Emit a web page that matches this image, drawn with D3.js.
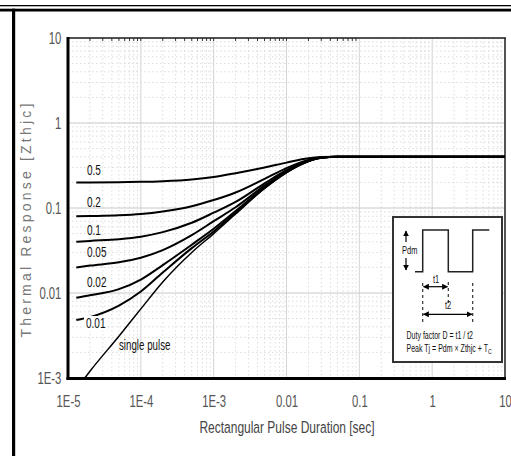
<!DOCTYPE html>
<html>
<head>
<meta charset="utf-8">
<script src="https://cdn.jsdelivr.net/npm/d3@7"></script>
<style>
  body { margin: 0; background: #fff; }
  svg { display: block; }
  text { font-family: "Liberation Sans", Arial, sans-serif; }
</style>
</head>
<body>
<svg id="chart" width="511" height="456"></svg>
<script>
// values
var durations = [1.3e-5, 2e-5, 5e-5, 1e-4, 2e-4, 5e-4, 1e-3, 2e-3, 5e-3, 1e-2, 2e-2, 3e-2, 5e-2, 10];
var duty05 = [0.200, 0.200, 0.201, 0.203, 0.207, 0.217, 0.232, 0.257, 0.300, 0.342, 0.385, 0.397, 0.400, 0.400];
var duty02 = [0.080, 0.0805, 0.082, 0.085, 0.091, 0.105, 0.124, 0.152, 0.220, 0.295, 0.368, 0.393, 0.400, 0.400];
var duty01 = [0.040, 0.041, 0.043, 0.046, 0.052, 0.067, 0.088, 0.118, 0.195, 0.278, 0.362, 0.392, 0.400, 0.400];
var duty005 = [0.020, 0.021, 0.023, 0.026, 0.032, 0.048, 0.070, 0.102, 0.183, 0.270, 0.358, 0.391, 0.400, 0.400];
var duty002 = [0.0088, 0.0094, 0.0111, 0.0144, 0.0213, 0.037, 0.057, 0.092, 0.175, 0.265, 0.356, 0.390, 0.400, 0.400];
var duty001 = [0.0048, 0.0052, 0.0071, 0.0104, 0.0174, 0.0337, 0.053, 0.088, 0.172, 0.263, 0.355, 0.390, 0.400, 0.400];
var singleDurations = [1.7e-5, 2e-5, 5e-5, 1e-4, 2e-4, 5e-4, 1e-3, 2e-3, 5e-3, 1e-2, 2e-2, 3e-2, 5e-2];
var singlePulse = [0.001, 0.0012, 0.0031, 0.0065, 0.0135, 0.030, 0.050, 0.085, 0.170, 0.261, 0.354, 0.389, 0.400];

var dutyNames = ["0.5", "0.2", "0.1", "0.05", "0.02", "0.01"];
var dutySeries = [duty05, duty02, duty01, duty005, duty002, duty001];

var xTickValues = [1e-5, 1e-4, 1e-3, 1e-2, 1e-1, 1, 10];
var xTickLabels = ["1E-5", "1E-4", "1E-3", "0.01", "0.1", "1", "10"];
var yTickValues = [1e-3, 1e-2, 1e-1, 1, 10];
var yTickLabels = ["1E-3", "0.01", "0.1", "1", "10"];

var svg = d3.select("#chart");

var xScale = d3.scaleLog().domain([1e-5, 10]).range([68, 505]);
var yScale = d3.scaleLog().domain([1e-3, 10]).range([378, 38]);

// condensed text: regular font squeezed sideways
function narrowText(parent, x, y, str, size, anchor, sx, sy) {
    var g = parent.append("g")
        .attr("transform", "translate(" + x + "," + y + ") scale(" + (sx || 0.78) + "," + (sy || 1) + ")");
    return g.append("text")
        .attr("text-anchor", anchor || "start")
        .attr("font-size", size)
        .attr("fill", "#111")
        .text(str);
}

// outer frame of the datasheet page
svg.append("rect").attr("x", 0).attr("y", 5).attr("width", 511).attr("height", 1.3).attr("fill", "#000");
svg.append("rect").attr("x", 0).attr("y", 8.7).attr("width", 511).attr("height", 2.8).attr("fill", "#000");
svg.append("rect").attr("x", 12).attr("y", 8.7).attr("width", 3.2).attr("height", 456).attr("fill", "#000");

// grid
var grid = svg.append("g");
xScale.ticks().forEach(function(v) {
    var major = xTickValues.indexOf(v) >= 0;
    grid.append("line")
        .attr("x1", xScale(v)).attr("x2", xScale(v))
        .attr("y1", 38).attr("y2", 378)
        .attr("stroke", major ? "#d4d4d4" : "#dcdcdc")
        .attr("stroke-width", 1)
        .attr("stroke-dasharray", major ? null : "1.5,2.5");
});
yScale.ticks().forEach(function(v) {
    var major = yTickValues.indexOf(v) >= 0;
    grid.append("line")
        .attr("x1", 68).attr("x2", 505)
        .attr("y1", yScale(v)).attr("y2", yScale(v))
        .attr("stroke", major ? "#c8c8c8" : "#dcdcdc")
        .attr("stroke-width", 1)
        .attr("stroke-dasharray", major ? null : "1.5,2.5");
});
// small ticks under the top border
xScale.ticks().filter(function(v) { return v > 1e-5 && v < 0.1; }).forEach(function(v) {
    grid.append("line")
        .attr("x1", xScale(v)).attr("x2", xScale(v))
        .attr("y1", 38).attr("y2", 41)
        .attr("stroke", "#333").attr("stroke-width", 1);
});

// axes
var xAxis = d3.axisBottom(xScale)
    .tickValues(xTickValues)
    .tickFormat(function(d, i) { return xTickLabels[i]; })
    .tickSize(0).tickPadding(22);
var gx = svg.append("g").attr("transform", "translate(0,378)").call(xAxis);
gx.select(".domain").remove();
gx.selectAll("text").attr("font-size", 14.5).attr("fill", "#555")
    .attr("transform", "scale(0.78,1.15)").attr("dy", "0.2em");

var yAxis = d3.axisLeft(yScale)
    .tickValues(yTickValues)
    .tickFormat(function(d, i) { return yTickLabels[i]; })
    .tickSize(0).tickPadding(0);
var gy = svg.append("g").attr("transform", "translate(68,0)").call(yAxis);
gy.select(".domain").remove();
gy.selectAll(".tick text").attr("font-size", 14.5).attr("fill", "#555")
    .attr("x", -8.5)
    .attr("dy", "0.32em")
    .attr("transform", "scale(0.78,1.1)");

// plot border
svg.append("line").attr("x1", 67).attr("x2", 506).attr("y1", 38).attr("y2", 38).attr("stroke", "#222").attr("stroke-width", 1.5);
svg.append("line").attr("x1", 505).attr("x2", 505).attr("y1", 38).attr("y2", 379).attr("stroke", "#222").attr("stroke-width", 1.5);
svg.append("line").attr("x1", 68).attr("x2", 68).attr("y1", 37).attr("y2", 380).attr("stroke", "#000").attr("stroke-width", 3);
svg.append("line").attr("x1", 66.5).attr("x2", 506).attr("y1", 378.5).attr("y2", 378.5).attr("stroke", "#000").attr("stroke-width", 3);

// axis titles
narrowText(svg, 287, 433, "Rectangular Pulse Duration [sec]", 15, "middle", 0.8, 1.1).attr("fill", "#444");
svg.append("text")
    .attr("transform", "translate(31,219) rotate(-90)")
    .attr("text-anchor", "middle")
    .attr("font-size", 14).attr("fill", "#777")
    .attr("letter-spacing", 3.2)
    .text("Thermal Response [Zthjc]");

// curves
var line = d3.line()
    .x(function(d) { return xScale(d[0]); })
    .y(function(d) { return yScale(d[1]); })
    .curve(d3.curveMonotoneX);

dutySeries.forEach(function(vals) {
    svg.append("path")
        .datum(durations.map(function(t, i) { return [t, vals[i]]; }))
        .attr("d", line)
        .attr("fill", "none").attr("stroke", "#000").attr("stroke-width", 2);
});
svg.append("path")
    .datum(singleDurations.map(function(t, i) { return [t, singlePulse[i]]; }))
    .attr("d", line)
    .attr("fill", "none").attr("stroke", "#000").attr("stroke-width", 1.5);

// curve labels
var labelPos = [[87, 175], [87, 207], [87, 235], [87, 257], [87, 287], [86, 328]];
dutyNames.forEach(function(name, i) {
    if (name === "0.01") {
        svg.append("rect").attr("x", 84).attr("y", 316).attr("width", 19).attr("height", 15).attr("fill", "#fff");
    }
    narrowText(svg, labelPos[i][0], labelPos[i][1], name, 12.5, "start", 0.8, 1.1);
});
narrowText(svg, 119, 350, "single pulse", 12.5, "start", 0.78, 1.1);

// inset box with the pulse train
var inset = svg.append("g");
inset.append("rect").attr("x", 393).attr("y", 217).attr("width", 109).attr("height", 145)
    .attr("fill", "#fff").attr("stroke", "#333").attr("stroke-width", 2);
inset.append("path")
    .attr("d", "M415,271.7 H422.7 V230 H448.3 V271.7 H472.7 V230 H489.3")
    .attr("fill", "none").attr("stroke", "#222").attr("stroke-width", 1.5);

var defs = svg.append("defs");
defs.append("marker").attr("id", "arr").attr("viewBox", "0 0 10 10")
    .attr("refX", 9).attr("refY", 5).attr("markerWidth", 5).attr("markerHeight", 5)
    .attr("orient", "auto-start-reverse")
    .append("path").attr("d", "M0,0 L10,5 L0,10 z").attr("fill", "#000");

inset.append("line").attr("x1", 406).attr("x2", 406).attr("y1", 242).attr("y2", 231)
    .attr("stroke", "#000").attr("stroke-width", 1.2).attr("marker-end", "url(#arr)");
inset.append("line").attr("x1", 406).attr("x2", 406).attr("y1", 258).attr("y2", 270)
    .attr("stroke", "#000").attr("stroke-width", 1.2).attr("marker-end", "url(#arr)");
narrowText(inset, 402, 254, "Pdm", 10, "start", 0.75, 1.1);

[[422.7, 283, 323], [448.3, 282, 303], [472.7, 283, 323]].forEach(function(d) {
    inset.append("line").attr("x1", d[0]).attr("x2", d[0]).attr("y1", d[1]).attr("y2", d[2])
        .attr("stroke", "#333").attr("stroke-width", 1.2).attr("stroke-dasharray", "3,3");
});
inset.append("line").attr("x1", 423.5).attr("x2", 447.5).attr("y1", 286.7).attr("y2", 286.7)
    .attr("stroke", "#000").attr("stroke-width", 1.2)
    .attr("marker-start", "url(#arr)").attr("marker-end", "url(#arr)");
narrowText(inset, 436, 283, "t1", 10, "middle", 0.75, 1.1);
inset.append("line").attr("x1", 423.5).attr("x2", 472).attr("y1", 314.3).attr("y2", 314.3)
    .attr("stroke", "#000").attr("stroke-width", 1.2)
    .attr("marker-start", "url(#arr)").attr("marker-end", "url(#arr)");
narrowText(inset, 448, 309, "t2", 10, "middle", 0.75, 1.1);

narrowText(inset, 406.5, 339, "Duty factor D = t1 / t2", 9.5, "start", 0.74, 1.15);
var peak = narrowText(inset, 406.5, 352, "", 9.5, "start", 0.74, 1.15);
peak.append("tspan").text("Peak Tj = Pdm \u00d7 Zthjc + T");
peak.append("tspan").attr("font-size", 7).attr("dy", 2).text("C");
</script>
</body>
</html>
